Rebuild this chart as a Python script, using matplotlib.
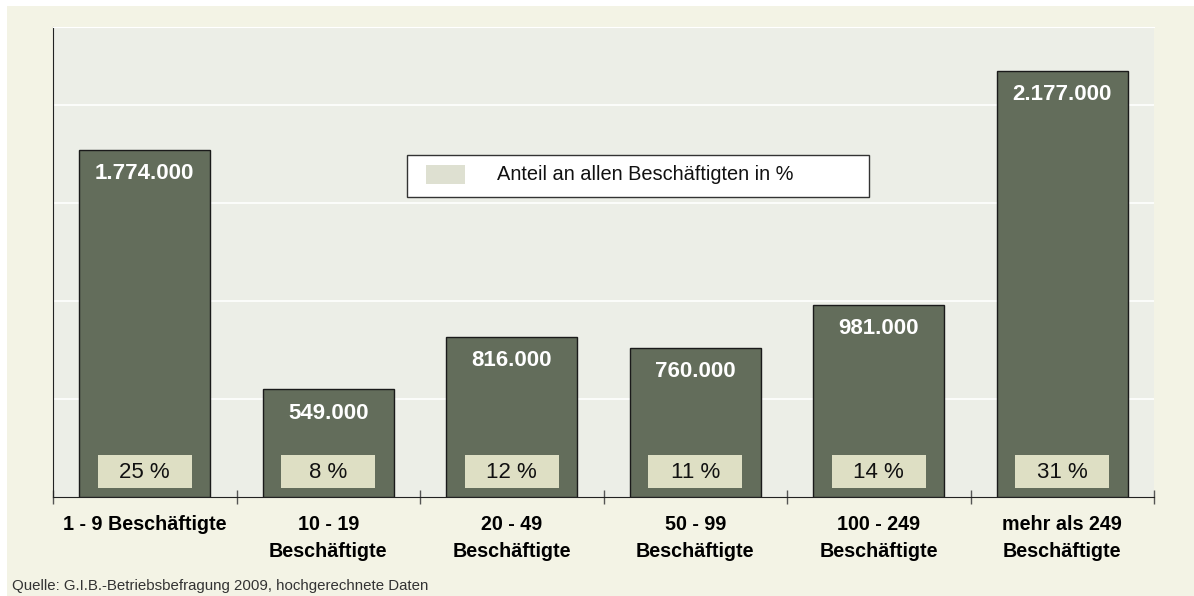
import matplotlib.pyplot as plt
from matplotlib.patches import Rectangle

plt.rcParams['font.family'] = ['Liberation Sans', 'DejaVu Sans']

categories = ["1 - 9 Beschäftigte", "10 - 19\nBeschäftigte", "20 - 49\nBeschäftigte",
              "50 - 99\nBeschäftigte", "100 - 249\nBeschäftigte", "mehr als 249\nBeschäftigte"]
employees = [1774000, 549000, 816000, 760000, 981000, 2177000]
value_labels = ["1.774.000", "549.000", "816.000", "760.000", "981.000", "2.177.000"]
shares = [25, 8, 12, 11, 14, 31]

bar_color = "#636d5b"
box_color = "#dedfc4"

fig = plt.figure(figsize=(11.94, 5.96), dpi=100, facecolor="white")
fig.patches.append(Rectangle((7 / 1194, 0), 1, 1 - 6 / 596, transform=fig.transFigure,
                             facecolor="#f3f3e5", edgecolor="none", zorder=-10))

ax = fig.add_axes([53 / 1194, 1 - 497 / 596, (1154 - 53) / 1194, (497 - 27) / 596])
ax.set_facecolor("#eceee7")

x = list(range(len(categories)))
ax.bar(x, employees, width=0.714, color=bar_color, edgecolor="#1a1a1a", linewidth=1, zorder=3)

ax.set_xlim(-0.5, len(categories) - 0.5)
ax.set_ylim(0, 2400000)

# white gridlines every 500k
ax.set_yticks([500000, 1000000, 1500000, 2000000])
ax.yaxis.grid(True, color="white", linewidth=1.2, zorder=0)
ax.tick_params(axis="y", length=0, labelleft=False)

# tick marks at category boundaries, labels at centers
ax.set_xticks([i - 0.5 for i in range(len(categories) + 1)])
ax.set_xticklabels([])
ax.tick_params(axis="x", which="major", direction="inout", length=9.5, width=1, color="#555555")
ax.set_xticks(x, minor=True)
ax.set_xticklabels(categories, minor=True, fontsize=14.2, fontweight="bold", linespacing=1.55)
ax.tick_params(axis="x", which="minor", length=0, pad=13)

ax.spines["right"].set_visible(False)
ax.spines["top"].set_color("white")
ax.spines["left"].set_color("#222222")
ax.spines["bottom"].set_color("#222222")

for i, (v, lab, s) in enumerate(zip(employees, value_labels, shares)):
    ax.annotate(lab, (i, v), xytext=(0, -17), textcoords="offset points",
                ha="center", va="center", color="white", fontsize=16,
                fontweight="bold", zorder=5)
    ax.add_patch(Rectangle((i - 0.257, 46000), 0.514, 170000, facecolor=box_color,
                           edgecolor="none", zorder=4))
    ax.text(i, 124000, f"{s} %", ha="center", va="center", fontsize=16,
            color="#111111", zorder=5)

# legend box
fig.patches.append(Rectangle((407 / 1194, 1 - 197 / 596), 462 / 1194, 42 / 596,
                             transform=fig.transFigure, facecolor="white",
                             edgecolor="#333333", linewidth=1, zorder=10))
fig.patches.append(Rectangle((426 / 1194, 1 - 184 / 596), 39 / 1194, 19 / 596,
                             transform=fig.transFigure, facecolor="#dee0d1",
                             edgecolor="none", zorder=11))
fig.text(497 / 1194, 1 - 175 / 596, "Anteil an allen Beschäftigten in %", fontsize=14.4,
         va="center", ha="left", color="#111111", zorder=12)

fig.text(12 / 1194, 1 - 586 / 596, "Quelle: G.I.B.-Betriebsbefragung 2009, hochgerechnete Daten",
         fontsize=10.8, color="#333333", va="center", ha="left")

fig.savefig("out.png", dpi=100, facecolor=fig.get_facecolor())
